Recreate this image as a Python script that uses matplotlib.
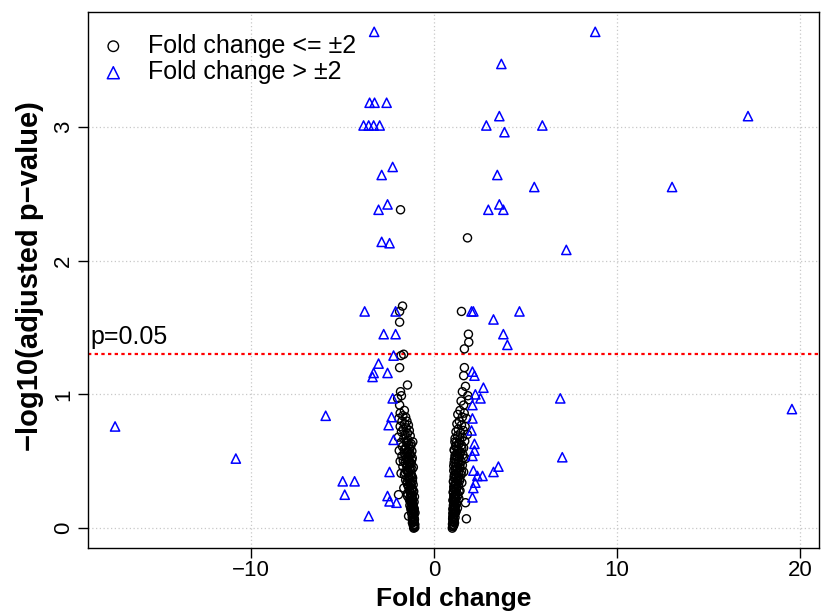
import matplotlib.pyplot as plt
import numpy as np

plt.rcParams["font.family"] = ["Liberation Sans", "DejaVu Sans"]

# fold change <= 2 (black circles), left cluster
LOW_NEG_FC = [
    -1.83, -1.72, -1.88, -1.88, -1.66, -1.80, -1.88, -1.45, -1.83, -1.78, -1.99, -1.88,
    -1.62, -1.85, -1.70, -1.55, -1.92, -1.48, -1.75,
    -1.60, -1.40, -1.85, -1.52, -1.68, -1.35, -1.78, -1.45, -1.58,
    -1.30, -1.95, -1.65, -1.42, -1.50, -1.80, -1.25, -1.38, -1.72, -1.55,
    -1.33, -1.90, -1.46, -1.62, -1.28, -1.75, -1.40, -1.52, -1.22, -1.85, -1.35,
    -1.58, -1.26, -1.44, -1.70, -1.32, -1.20, -1.50, -1.38, -1.80, -1.28, -1.62,
    -1.22, -1.42, -1.34, -1.55, -1.18, -1.30, -1.46, -1.25, -1.38, -1.65,
    -1.20, -1.33, -1.15, -1.45, -1.94, -1.27, -1.45, -1.22, -1.36, -1.17, -1.30,
    -1.24, -1.14, -1.32, -1.20, -1.12, -1.26, -1.18, -1.10, -1.22, -1.15,
    -1.39, -1.12, -1.19, -1.08, -1.15, -1.10, -1.18, -1.06, -1.13, -1.09, -1.05, -1.11,
    -1.16, -1.48, -1.27, -1.36, -1.62, -1.21, -1.43, -1.31, -1.55, -1.19,
    -1.40, -1.68, -1.24, -1.34, -1.50, -1.13, -1.29, -1.45, -1.58, -1.23,
    -1.37, -1.17, -1.32, -1.47, -1.26, -1.14, -1.41, -1.21, -1.35, -1.11,
    -1.28, -1.19, -1.07, -1.24, -1.16, -1.31, -1.09, -1.20, -1.14, -1.27,
    -1.08, -1.17, -1.12, -1.04, -1.10, -1.15, -1.07, -1.13, -1.06, -1.10,
]
LOW_NEG_P = [
    2.38, 1.66, 1.62, 1.54, 1.30, 1.29, 1.20, 1.07, 1.02, 0.99, 0.97, 0.92,
    0.88, 0.86, 0.84, 0.83, 0.82, 0.80, 0.80,
    0.78, 0.77, 0.76, 0.75, 0.74, 0.73, 0.72, 0.71, 0.70,
    0.69, 0.68, 0.67, 0.66, 0.65, 0.64, 0.63, 0.62, 0.61, 0.60,
    0.59, 0.58, 0.57, 0.56, 0.55, 0.54, 0.53, 0.52, 0.51, 0.50, 0.50,
    0.49, 0.48, 0.47, 0.46, 0.45, 0.44, 0.43, 0.42, 0.41, 0.40, 0.40,
    0.39, 0.38, 0.37, 0.36, 0.35, 0.34, 0.33, 0.32, 0.31, 0.30,
    0.29, 0.28, 0.27, 0.26, 0.25, 0.25, 0.24, 0.23, 0.22, 0.21, 0.20,
    0.19, 0.18, 0.17, 0.16, 0.15, 0.14, 0.13, 0.12, 0.11, 0.10,
    0.09, 0.09, 0.08, 0.07, 0.06, 0.05, 0.04, 0.03, 0.02, 0.01, 0.005, 0.0,
    0.645, 0.635, 0.615, 0.595, 0.585, 0.575, 0.565, 0.545, 0.535, 0.525,
    0.515, 0.505, 0.485, 0.475, 0.465, 0.455, 0.435, 0.425, 0.415, 0.395,
    0.385, 0.375, 0.355, 0.345, 0.335, 0.325, 0.315, 0.295, 0.285, 0.275,
    0.265, 0.245, 0.235, 0.225, 0.215, 0.205, 0.195, 0.185, 0.165, 0.155,
    0.145, 0.135, 0.125, 0.115, 0.105, 0.085, 0.065, 0.045, 0.025, 0.015,
]

# fold change <= 2 (black circles), right cluster
LOW_POS_FC = [
    1.83, 1.50, 1.88, 1.90, 1.66, 1.66, 1.62, 1.72, 1.55, 1.85, 1.48, 1.62, 1.90,
    1.42, 1.65, 1.30, 1.55, 1.78, 1.38,
    1.25, 1.50, 1.70, 1.32, 1.60, 1.20, 1.45, 1.82,
    1.28, 1.55, 1.15, 1.40, 1.68, 1.22, 1.35, 1.50, 1.18, 1.62,
    1.30, 1.12, 1.45, 1.25, 1.58, 1.15, 1.38, 1.72, 1.20, 1.48,
    1.10, 1.32, 1.55, 1.18, 1.42, 1.26, 1.08, 1.62, 1.35, 1.14, 1.48,
    1.22, 1.10, 1.40, 1.28, 1.06, 1.52, 1.16, 1.34, 1.08, 1.24,
    1.12, 1.42, 1.05, 1.20, 1.30, 1.08, 1.16, 1.36, 1.04, 1.72, 1.12,
    1.22, 1.06, 1.14, 1.28, 1.04, 1.10, 1.18, 1.03, 1.12,
    1.77, 1.06, 1.15, 1.02, 1.09, 1.04, 1.12, 1.01, 1.07, 1.03, 1.00,
    1.14, 1.38, 1.22, 1.52, 1.10, 1.30, 1.45, 1.17, 1.26, 1.60,
    1.12, 1.35, 1.20, 1.42, 1.08, 1.28, 1.16, 1.50, 1.24, 1.11,
    1.33, 1.19, 1.40, 1.07, 1.25, 1.14, 1.31, 1.09, 1.21, 1.37,
    1.06, 1.17, 1.27, 1.10, 1.19, 1.05, 1.14, 1.23, 1.08, 1.16,
    1.04, 1.11, 1.20, 1.06, 1.13, 1.03, 1.09, 1.05, 1.08, 1.02,
]
LOW_POS_P = [
    2.17, 1.62, 1.45, 1.39, 1.34, 1.20, 1.14, 1.06, 1.02, 0.99, 0.95, 0.92, 0.96,
    0.88, 0.86, 0.85, 0.83, 0.82, 0.80,
    0.78, 0.77, 0.76, 0.74, 0.73, 0.72, 0.71, 0.70,
    0.69, 0.68, 0.67, 0.66, 0.65, 0.64, 0.63, 0.62, 0.61, 0.60,
    0.59, 0.58, 0.57, 0.56, 0.55, 0.54, 0.53, 0.52, 0.51, 0.50,
    0.49, 0.48, 0.47, 0.46, 0.45, 0.44, 0.43, 0.42, 0.41, 0.40, 0.40,
    0.39, 0.38, 0.37, 0.36, 0.35, 0.34, 0.33, 0.32, 0.31, 0.30,
    0.29, 0.28, 0.27, 0.26, 0.25, 0.24, 0.23, 0.22, 0.21, 0.19, 0.20,
    0.18, 0.17, 0.16, 0.15, 0.14, 0.13, 0.12, 0.11, 0.10,
    0.07, 0.09, 0.08, 0.07, 0.06, 0.05, 0.04, 0.03, 0.02, 0.01, 0.0,
    0.645, 0.635, 0.615, 0.595, 0.585, 0.575, 0.565, 0.545, 0.535, 0.525,
    0.515, 0.505, 0.485, 0.475, 0.465, 0.455, 0.435, 0.425, 0.415, 0.395,
    0.385, 0.375, 0.355, 0.345, 0.335, 0.325, 0.315, 0.295, 0.285, 0.275,
    0.265, 0.245, 0.235, 0.225, 0.215, 0.205, 0.195, 0.185, 0.165, 0.155,
    0.145, 0.135, 0.125, 0.115, 0.105, 0.085, 0.065, 0.045, 0.025, 0.015,
]

# fold change > 2 (blue triangles)
HIGH_FC = [
    -3.27, 8.81, 3.68,
    -3.52, -3.25, -2.59,
    -3.85, -3.57, -3.30, -2.97,
    3.57, 2.86, 5.92, 3.85,
    17.16, 13.01,
    -2.26, -2.86, 3.46, 5.48,
    -2.54, -3.03, 2.97, 3.57, 3.79,
    -2.86, -2.43, 7.23,
    -3.79, -2.10, 2.05, 2.15, 4.67, 3.25,
    -2.75, -2.10, 3.79, 4.01,
    -2.21, -3.03, -3.30, -3.36, -2.54,
    2.10, 2.21,
    -2.26, 2.70, 2.26, 2.54, 6.90, 2.10,
    -2.32, -2.48, -2.21, -2.43,
    -4.99, -4.34, -4.88, -2.54, -2.43, -2.05, -3.57,
    2.10, 2.05, 2.21, 2.21, 2.10, 7.01, 2.15, 2.37, 2.65, 3.52, 3.25, 2.26, 2.15, 2.10,
    -17.43, -10.83, -5.92, 19.56,
]
HIGH_P = [
    3.71, 3.71, 3.47,
    3.18, 3.18, 3.18,
    3.01, 3.01, 3.01, 3.01,
    3.08, 3.01, 3.01, 2.96,
    3.08, 2.55,
    2.70, 2.64, 2.64, 2.55,
    2.42, 2.38, 2.38, 2.42, 2.38,
    2.14, 2.13, 2.08,
    1.62, 1.62, 1.62, 1.62, 1.62, 1.56,
    1.45, 1.45, 1.45, 1.37,
    1.29, 1.23, 1.16, 1.13, 1.16,
    1.17, 1.14,
    0.97, 1.05, 1.00, 0.97, 0.97, 0.92,
    0.83, 0.77, 0.66, 0.42,
    0.35, 0.35, 0.25, 0.24, 0.20, 0.19, 0.09,
    0.82, 0.73, 0.63, 0.58, 0.54, 0.53, 0.43, 0.39, 0.39, 0.46, 0.42, 0.34, 0.30, 0.23,
    0.76, 0.52, 0.84, 0.89,
]

P_CUT = -np.log10(0.05)

W, H = 827, 612
fig = plt.figure(figsize=(W / 100, H / 100), dpi=100)
ax = fig.add_axes([88 / W, 1 - 548 / H, (819 - 88) / W, (548 - 12) / H])

low_x = LOW_NEG_FC + LOW_POS_FC
low_y = LOW_NEG_P + LOW_POS_P
ax.scatter(low_x, low_y, s=34, facecolors="none", edgecolors="black",
           linewidths=1.0, marker="o", label="Fold change <= \u00b12", zorder=3)
ax.scatter(HIGH_FC, HIGH_P, s=44, facecolors="none", edgecolors="blue",
           linewidths=1.1, marker="^", label="Fold change > \u00b12", zorder=3)

ax.axhline(P_CUT, color="red", linestyle=(0, (1.5, 1.5)), linewidth=1.6, zorder=2)
ax.text(-18.75, P_CUT + 0.04, "p=0.05", fontsize=18, ha="left", va="bottom")

# R default 4% padding
allx = low_x + HIGH_FC
ally = low_y + HIGH_P
xr = max(allx) - min(allx)
yr = max(ally) - min(ally)
ax.set_xlim(min(allx) - 0.04 * xr, max(allx) + 0.04 * xr)
ax.set_ylim(min(ally) - 0.04 * yr, max(ally) + 0.04 * yr)

ax.set_xticks([-10, 0, 10, 20])
ax.set_xticklabels(["\u221210", "0", "10", "20"], fontsize=16)
ax.set_yticks([0, 1, 2, 3])
ax.set_yticklabels(["0", "1", "2", "3"], fontsize=16, rotation=90, va="center")
ax.tick_params(direction="out", length=7, width=1)
ax.tick_params(axis="x", pad=2)
ax.tick_params(axis="y", pad=3)

ax.grid(True, color="#c8c8c8", linestyle=(0, (1, 2)), linewidth=0.9, zorder=0)
ax.set_axisbelow(True)

fig.text(453.5 / W, (H - 606) / H, "Fold change", fontsize=19, fontweight="bold",
         ha="center", va="baseline")
fig.text(30 / W, 1 - 276 / H, "\u2212log10(adjusted p\u2212value)", fontsize=21,
         fontweight="bold", rotation=90, ha="center", va="center")

for sp in ax.spines.values():
    sp.set_linewidth(1)
    sp.set_color("black")

ax.legend(loc="upper left", bbox_to_anchor=(-0.003, 0.978), frameon=False,
          fontsize=18, handlelength=1.4, handletextpad=0.7, labelspacing=0.1,
          borderaxespad=0.0, scatterpoints=1, markerscale=1.3)

fig.savefig("out.png", dpi=100)
